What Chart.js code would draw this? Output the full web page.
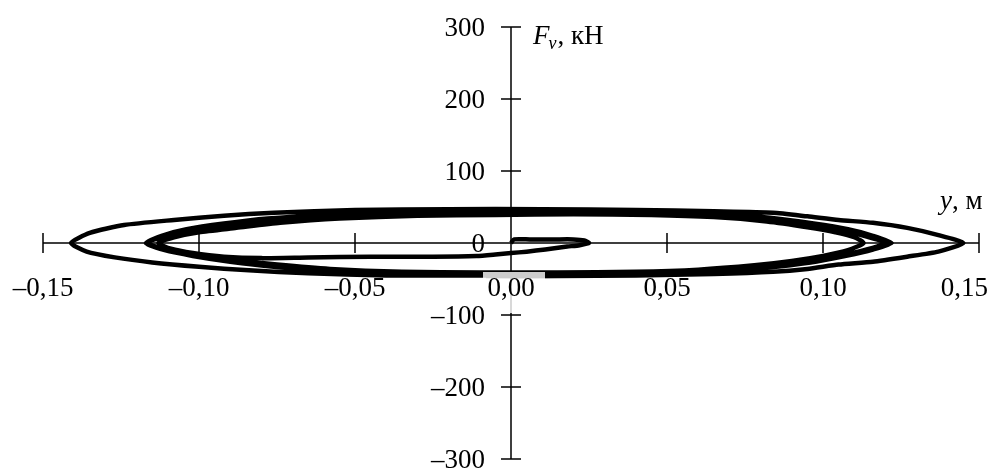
<!DOCTYPE html>
<html>
<head>
<meta charset="utf-8">
<script src="https://cdn.jsdelivr.net/npm/chart.js@4"></script>
<style>
  html, body { margin: 0; padding: 0; background: #fff; }
  #wrap { width: 991px; height: 468px; position: relative; }
</style>
</head>
<body>
<div id="wrap"><canvas id="chart"></canvas></div>
<script>
// Tick values and labels
const xTicks = [-0.15, -0.10, -0.05, 0, 0.05, 0.10, 0.15];
const xTickLabels = ['–0,15', '–0,10', '–0,05', '0,00', '0,05', '0,10', '0,15'];
const yTicks = [-300, -200, -100, 0, 100, 200, 300];
const yTickLabels = ['–300', '–200', '–100', '0', '100', '200', '300'];

// Hysteresis path, branch by branch: displacement y (m) and force Fv (kN)
const startY = [0, 0.001, 0.006, 0.014, 0.020, 0.0235, 0.025, 0.022, 0.018, 0.011, 0.005, 0, -0.005, -0.011, -0.025, -0.045, -0.065, -0.080, -0.092, -0.102, -0.109, -0.113];
const startF = [0, 5, 5, 5, 5, 3.5, 0, -3, -5, -9, -12, -14, -16, -18, -19, -19, -20, -21, -19, -14, -8, 0];

const up1Y = [-0.113, -0.108, -0.100, -0.088, -0.074, -0.055, -0.030, -0.005, 0.020, 0.045, 0.065, 0.082, 0.095, 0.104, 0.110, 0.113];
const up1F = [0, 8, 15, 21, 28, 34, 38, 39, 40, 39, 36, 30, 22, 15, 8, 0];

const down1Y = [0.113, 0.108, 0.100, 0.090, 0.078, 0.060, 0.040, 0.015, -0.010, -0.035, -0.058, -0.075, -0.088, -0.100, -0.110, -0.117];
const down1F = [0, -10, -18, -25, -31, -37, -40, -41, -41, -40, -36, -30, -24, -17, -9, 0];

const up2Y = [-0.117, -0.111, -0.102, -0.090, -0.076, -0.058, -0.035, -0.010, 0.015, 0.040, 0.062, 0.080, 0.094, 0.105, 0.114, 0.120];
const up2F = [0, 9, 17, 24, 31, 37, 41, 42, 43, 42, 39, 33, 26, 18, 9, 0];

const down2Y = [0.120, 0.114, 0.105, 0.094, 0.080, 0.062, 0.040, 0.015, -0.010, -0.035, -0.058, -0.076, -0.090, -0.102, -0.111, -0.117];
const down2F = [0, -9, -18, -26, -33, -38, -42, -43, -43, -42, -39, -33, -26, -18, -10, 0];

const up3Y = [-0.117, -0.112, -0.104, -0.092, -0.078, -0.060, -0.035, -0.010, 0.015, 0.042, 0.065, 0.083, 0.097, 0.108, 0.116, 0.122];
const up3F = [0, 10, 19, 27, 34, 39, 43, 45, 45, 44, 41, 35, 27, 19, 10, 0];

const down3Y = [0.122, 0.116, 0.107, 0.096, 0.082, 0.063, 0.040, 0.015, -0.010, -0.040, -0.065, -0.084, -0.100, -0.115, -0.127, -0.136, -0.141];
const down3F = [0, -9, -18, -27, -34, -40, -44, -45, -45, -45, -42, -38, -33, -27, -20, -12, 0];

const upOuterY = [-0.141, -0.135, -0.124, -0.108, -0.092, -0.076, -0.050, -0.020, 0.010, 0.040, 0.065, 0.084, 0.095, 0.105, 0.116, 0.127, 0.137, 0.145];
const upOuterF = [0, 14, 25, 32, 38, 42, 46, 47, 47, 46, 44, 42, 37, 32, 28, 21, 11, 0];

const downOuterY = [0.145, 0.137, 0.127, 0.116, 0.105, 0.095, 0.084, 0.065, 0.040, 0.015, -0.008];
const downOuterF = [0, -12, -19, -26, -30, -36, -40, -43, -45, -46, -46];

const branches = [
  [startY, startF], [up1Y, up1F], [down1Y, down1F], [up2Y, up2F], [down2Y, down2F],
  [up3Y, up3F], [down3Y, down3F], [upOuterY, upOuterF], [downOuterY, downOuterF]
];

// join branches into one path (skip the repeated joint point)
const points = [];
branches.forEach(([ys, fs], b) => {
  ys.forEach((y, i) => {
    if (b > 0 && i === 0) return;
    points.push({ x: y, y: fs[i] });
  });
});

const FONT = "'Liberation Serif', 'Times New Roman', serif";

// Axes crossing at zero, with cross ticks, drawn through the chart scales
const crossAxes = {
  id: 'crossAxes',
  beforeDatasetsDraw(chart) {
    const ctx = chart.ctx;
    const xs = chart.scales.x, ys = chart.scales.y;
    const x0 = xs.getPixelForValue(0), y0 = ys.getPixelForValue(0);
    ctx.save();
    ctx.strokeStyle = '#000';
    ctx.lineWidth = 1.5;
    ctx.beginPath();
    ctx.moveTo(xs.getPixelForValue(xTicks[0]), y0);
    ctx.lineTo(xs.getPixelForValue(xTicks[xTicks.length - 1]), y0);
    ctx.moveTo(x0, ys.getPixelForValue(yTicks[0]));
    ctx.lineTo(x0, ys.getPixelForValue(yTicks[yTicks.length - 1]));
    xTicks.forEach(v => {
      const px = xs.getPixelForValue(v);
      ctx.moveTo(px, y0 - 10);
      ctx.lineTo(px, y0 + 10);
    });
    yTicks.forEach(v => {
      const py = ys.getPixelForValue(v);
      ctx.moveTo(x0 - 10, py);
      ctx.lineTo(x0 + 10, py);
    });
    ctx.stroke();
    ctx.restore();
  },
  afterDatasetsDraw(chart) {
    const ctx = chart.ctx;
    const xs = chart.scales.x, ys = chart.scales.y;
    const x0 = xs.getPixelForValue(0), y0 = ys.getPixelForValue(0);
    const W = chart.width;
    ctx.save();
    // pale box behind the "0,00" label
    ctx.fillStyle = 'rgba(255,255,255,0.8)';
    ctx.fillRect(x0 - 28, y0 + 29, 62, 41);

    ctx.fillStyle = '#000';
    ctx.font = '27px ' + FONT;
    ctx.textBaseline = 'alphabetic';
    // x tick labels
    xTicks.forEach((v, i) => {
      const txt = xTickLabels[i];
      const w = ctx.measureText(txt).width;
      let cx = xs.getPixelForValue(v);
      cx = Math.min(cx, W - w / 2 - 3);
      ctx.textAlign = 'center';
      ctx.fillText(txt, cx, y0 + 53);
    });
    // y tick labels
    ctx.textAlign = 'right';
    yTicks.forEach((v, i) => {
      ctx.fillText(yTickLabels[i], x0 - 26, ys.getPixelForValue(v) + 9);
    });

    // axis titles
    ctx.textAlign = 'left';
    ctx.font = 'italic 27px ' + FONT;
    ctx.fillText('F', x0 + 22, 44);
    let fx = x0 + 22 + ctx.measureText('F').width;
    ctx.font = 'italic 18px ' + FONT;
    ctx.fillText('v', fx - 1, 49);
    fx += ctx.measureText('v').width;
    ctx.font = '27px ' + FONT;
    ctx.fillText(', кН', fx, 44);

    ctx.font = 'italic 27px ' + FONT;
    ctx.fillText('y', 940, 209);
    const yx = 940 + ctx.measureText('y').width;
    ctx.font = '27px ' + FONT;
    ctx.fillText(', м', yx, 209);
    ctx.restore();
  }
};

const ctx = document.getElementById('chart').getContext('2d');
const chart = new Chart(ctx, {
  type: 'scatter',
  data: {
    datasets: [{
      data: points,
      showLine: true,
      borderColor: '#000',
      borderWidth: 4.5,
      pointRadius: 0,
      fill: false,
      tension: 0.2,
      clip: false
    }]
  },
  options: {
    responsive: true,
    maintainAspectRatio: false,
    animation: false,
    layout: { padding: { left: 43, right: 12, top: 27, bottom: 9 } },
    plugins: { legend: { display: false }, tooltip: { enabled: false } },
    scales: {
      x: { type: 'linear', min: -0.15, max: 0.15, display: false },
      y: { type: 'linear', min: -300, max: 300, display: false }
    }
  },
  plugins: [crossAxes]
});
</script>
</body>
</html>
